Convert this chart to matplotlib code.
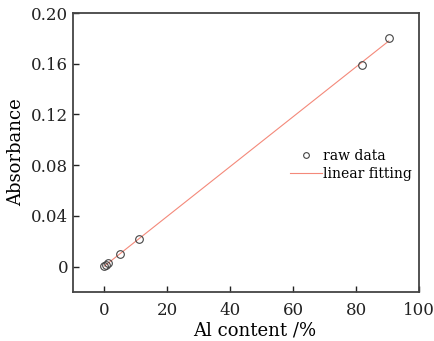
import numpy as np
import matplotlib.pyplot as plt

al_content = [0.0, 0.4, 1.1, 4.8, 11.1, 81.9, 90.4]
absorbance = [0.0005, 0.0012, 0.0030, 0.0100, 0.0220, 0.1590, 0.1800]

x_ticks = [0, 20, 40, 60, 80, 100]
y_ticks = [0, 0.04, 0.08, 0.12, 0.16, 0.20]
y_ticklabels = ["0", "0.04", "0.08", "0.12", "0.16", "0.20"]

plt.rcParams['font.family'] = ['DejaVu Serif']

fig = plt.figure(figsize=(4.35, 3.41), dpi=100)
ax = fig.add_axes([73 / 435, 49 / 341, 346 / 435, 279 / 341])

# linear fit
k, b = np.polyfit(al_content, absorbance, 1)
xf = np.array([min(al_content), max(al_content)])
ax.plot(al_content, absorbance, 'o', mfc='none', mec='#444444', ms=5.5, mew=0.8,
        label='raw data', zorder=3)
ax.plot(xf, k * xf + b, color='#f4897a', lw=0.8, label='linear fitting')

ax.set_xlim(-10, 100)
ax.set_ylim(-0.02, 0.20)
ax.set_xticks(x_ticks)
ax.set_yticks(y_ticks)
ax.set_yticklabels(y_ticklabels)
ax.tick_params(direction='in', length=4, width=1, labelsize=12, colors='#222222')
ax.tick_params(axis='x', pad=7)
for s in ax.spines.values():
    s.set_linewidth(1.3)
    s.set_color('#444444')

ax.set_xlabel('Al content /%', fontsize=13, labelpad=0)
ax.xaxis.set_label_coords(0.525, -0.105)
ax.set_ylabel('Absorbance', fontsize=13, labelpad=4)

leg = ax.legend(loc='center left', bbox_to_anchor=(0.59, 0.455), frameon=False, fontsize=10,
                handlelength=2.3, handletextpad=0.1, labelspacing=0.3, markerscale=0.75)

fig.savefig('out.png', dpi=100)
